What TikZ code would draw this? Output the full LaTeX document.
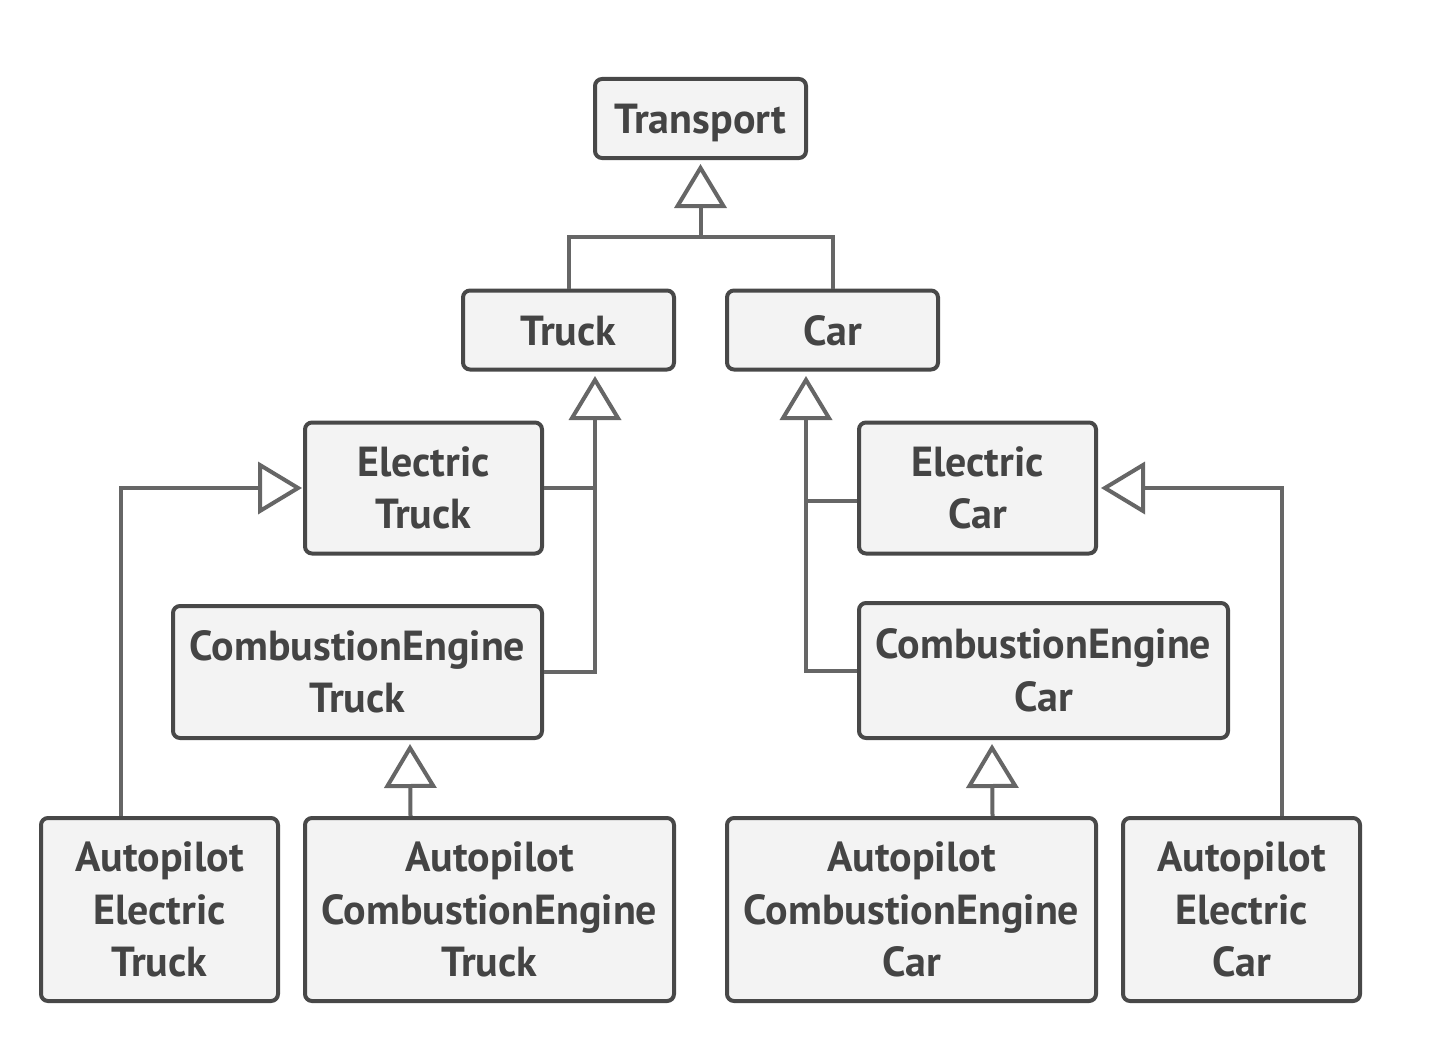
\documentclass[tikz,border=0pt]{standalone}
\usepackage{fontspec}
\setmainfont{PT Sans}
\usetikzlibrary{arrows.meta}
\definecolor{boxc}{RGB}{72,72,72}
\definecolor{boxf}{RGB}{243,243,243}
\definecolor{linec}{RGB}{102,102,102}
\definecolor{txtc}{RGB}{68,68,68}
\newcommand{\lowered}[2]{\raisebox{-#1}[\height][\depth]{#2}}
\tikzset{
  cls/.style={draw=boxc, fill=boxf, line width=4pt, rounded corners=7pt,
    align=center, inner sep=0pt, text=txtc,
    font=\fontsize{42}{52.5}\selectfont\bfseries},
  conn/.style={draw=linec, line width=4pt},
  inh/.style={conn, -{Triangle[open, fill=white, length=44pt, width=52pt]}},
}
\begin{document}
\begin{tikzpicture}[x=1pt,y=-1pt]
\useasboundingbox (0,0) rectangle (1440,1054);
% nodes
\node[cls, minimum width=211pt, minimum height=79pt] (tp) at (700.5,118.5) {\lowered{5pt}{Transport}};
\node[cls, minimum width=211pt, minimum height=79pt] (tr) at (568.5,330) {\lowered{1pt}{Truck}};
\node[cls, minimum width=211pt, minimum height=79pt] (car) at (832.5,330) {\lowered{1pt}{Car}};
\node[cls, minimum width=237pt, minimum height=131pt] (et) at (423.5,488) {Electric\\Truck};
\node[cls, minimum width=369pt, minimum height=132pt] (cet) at (357.5,672) {CombustionEngine\\Truck};
\node[cls, minimum width=237pt, minimum height=131pt] (ec) at (977.5,488) {Electric\\Car};
\node[cls, minimum width=369pt, minimum height=135pt] (cec) at (1043.5,670.5) {CombustionEngine\\Car};
\node[cls, minimum width=237pt, minimum height=183pt] (aet) at (159.5,909.5) {Autopilot\\Electric\\Truck};
\node[cls, minimum width=369pt, minimum height=183pt] (acet) at (489.5,909.5) {Autopilot\\CombustionEngine\\Truck};
\node[cls, minimum width=369pt, minimum height=183pt] (acec) at (911.5,909.5) {Autopilot\\CombustionEngine\\Car};
\node[cls, minimum width=237pt, minimum height=183pt] (aec) at (1241.5,909.5) {Autopilot\\Electric\\Car};
% tip / junction coordinates
\coordinate (tptip) at (700.5,164);
\coordinate (tpjoin) at (700.5,237);
\coordinate (trtip) at (595,376);
\coordinate (cartip) at (806,376);
\coordinate (ettip) at (302,488);
\coordinate (ectip) at (1101,488);
\coordinate (cettip) at (410,744);
\coordinate (cectip) at (992,744);
% connectors
\draw[inh] (tr.north) |- (tpjoin) -- (tptip);
\draw[conn] (car.north) |- (tpjoin);
\draw[inh] (cet.east) -| (trtip);
\draw[conn] (et.east) -- (et.east -| trtip);
\draw[inh] (cec.west) -| (cartip);
\draw[conn] ([yshift=-13pt]ec.west) -- ([yshift=-13pt]ec.west -| cartip);
\draw[inh] ([xshift=-39pt]aet.north) |- (ettip);
\draw[inh] ([xshift=40pt]aec.north) |- (ectip);
\draw[inh] ([xshift=-79pt]acet.north) -- (cettip);
\draw[inh] ([xshift=81pt]acec.north) -- (cectip);
\end{tikzpicture}
\end{document}
